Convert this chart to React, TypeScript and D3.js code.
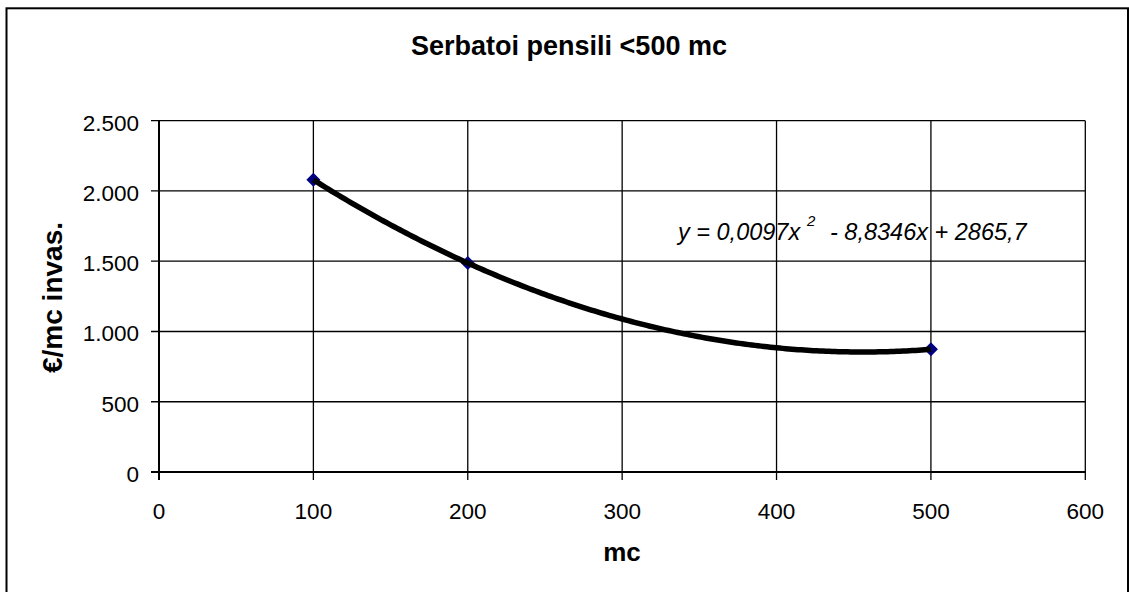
import React from "react";
import * as d3 from "d3";

const xValues = [100, 200, 500];
const yValues = [2079, 1487, 873];
const xTicks = [0, 100, 200, 300, 400, 500, 600];
const yTicks = [0, 500, 1000, 1500, 2000, 2500];
const title = "Serbatoi pensili <500 mc";
const xTitle = "mc";
const yTitle = "€/mc invas.";
const eqMain = "y = 0,0097x";
const eqSup = "2";
const eqRest = "- 8,8346x + 2865,7";

function fitQuadratic(xs: number[], ys: number[]) {
  const n = xs.length;
  let s1 = 0, s2 = 0, s3 = 0, s4 = 0, t0 = 0, t1 = 0, t2 = 0;
  for (let i = 0; i < n; i++) {
    const x = xs[i], y = ys[i];
    s1 += x; s2 += x * x; s3 += x ** 3; s4 += x ** 4;
    t0 += y; t1 += x * y; t2 += x * x * y;
  }
  const M = [
    [s4, s3, s2, t2],
    [s3, s2, s1, t1],
    [s2, s1, n, t0],
  ];
  for (let i = 0; i < 3; i++) {
    let p = i;
    for (let r = i + 1; r < 3; r++) if (Math.abs(M[r][i]) > Math.abs(M[p][i])) p = r;
    [M[i], M[p]] = [M[p], M[i]];
    for (let r = 0; r < 3; r++) {
      if (r === i) continue;
      const f = M[r][i] / M[i][i];
      for (let c = i; c < 4; c++) M[r][c] -= f * M[i][c];
    }
  }
  return [M[0][3] / M[0][0], M[1][3] / M[1][1], M[2][3] / M[2][2]];
}

export default function App() {
  const W = 1129, H = 592;
  const left = 159, right = 1085.3, top = 120.7, bottom = 472;
  const x = d3.scaleLinear().domain([0, 600]).range([left, right]);
  const y = d3.scaleLinear().domain([0, 2500]).range([bottom, top]);
  const [a, b, c] = fitQuadratic(xValues, yValues);
  const xmin = d3.min(xValues)!, xmax = d3.max(xValues)!;
  const curvePts: [number, number][] = d3.range(xmin, xmax + 0.001, 2).map((v) => [v, a * v * v + b * v + c]);
  const line = d3.line<[number, number]>().x((d) => x(d[0])).y((d) => y(d[1]));
  const font = "Arial, 'Liberation Sans', sans-serif";
  const fmt = (v: number) => d3.format(",")(v).replace(/,/g, ".");
  const ds = 7;
  return (
    <svg width={W} height={H} style={{ position: "absolute", left: 0, top: 0, background: "#fff" }} fontFamily={font}>
      <rect x={0} y={0} width={W} height={H} fill="#fff" />
      <rect x={6.5} y={8.3} width={1121.5} height={620} fill="none" stroke="#000" strokeWidth={2} />
      <text x={569} y={55} textAnchor="middle" fontSize={27} fontWeight="bold">{title}</text>
      {yTicks.map((t) => (
        <g key={"y" + t}>
          <line x1={left - 8} x2={right} y1={y(t)} y2={y(t)} stroke="#000" strokeWidth={1.3} />
          <text x={139} y={y(t) + 10} textAnchor="end" fontSize={22.5}>{fmt(t)}</text>
        </g>
      ))}
      {xTicks.map((t) => (
        <g key={"x" + t}>
          <line x1={x(t)} x2={x(t)} y1={top} y2={bottom + 8} stroke="#000" strokeWidth={1.3} />
          <text x={x(t)} y={519} textAnchor="middle" fontSize={22.5}>{t}</text>
        </g>
      ))}
      <line x1={left} x2={left} y1={top} y2={bottom + 8} stroke="#000" strokeWidth={2} />
      <line x1={left - 8} x2={right} y1={bottom} y2={bottom} stroke="#000" strokeWidth={2} />
      {xValues.map((v, i) => (
        <path
          key={"m" + i}
          d={`M${x(v)},${y(yValues[i]) - ds}L${x(v) + ds},${y(yValues[i])}L${x(v)},${y(yValues[i]) + ds}L${x(v) - ds},${y(yValues[i])}Z`}
          fill="#000080"
        />
      ))}
      <path d={line(curvePts) || ""} fill="none" stroke="#000" strokeWidth={5.5} />
      <text x={678} y={240} fontSize={23.5} fontStyle="italic">{eqMain}</text>
      <text x={807} y={226} fontSize={15} fontStyle="italic">{eqSup}</text>
      <text x={830} y={240} fontSize={23.5} fontStyle="italic">{eqRest}</text>
      <text x={622} y={561} textAnchor="middle" fontSize={26} fontWeight="bold">{xTitle}</text>
      <text transform={`translate(62,297.5) rotate(-90)`} textAnchor="middle" fontSize={28} fontWeight="bold">{yTitle}</text>
    </svg>
  );
}
